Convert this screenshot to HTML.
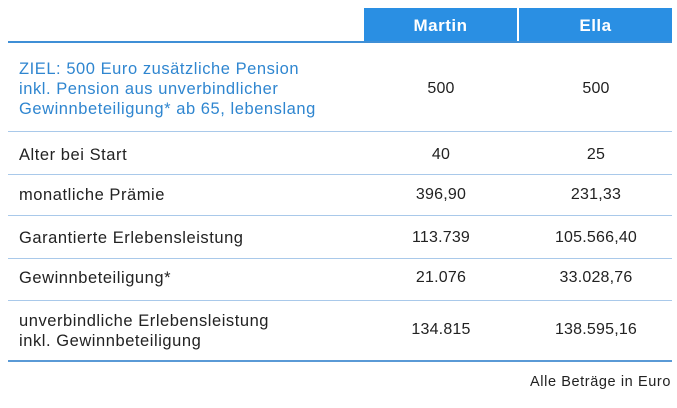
<!DOCTYPE html><html><head><style>
body{margin:0;width:677px;height:408px;background:#fff;font-family:"Liberation Sans",sans-serif;color:#222;position:relative;overflow:hidden}
.a{position:absolute;white-space:nowrap}
.h{background:#2a8fe3;color:#fff;font-weight:bold;font-size:17px;letter-spacing:0.5px;top:8px;height:34px;line-height:36px;text-align:center}
.l{left:8px;width:664px;height:1px;background:#a9c9ea}
.t{left:19px;font-size:16.5px;letter-spacing:0.55px;line-height:20px}
.v{font-size:16px;letter-spacing:0.2px;width:154px;text-align:center;line-height:20px}
</style></head><body>
<div class="a h" style="left:364px;width:153px">Martin</div>
<div class="a h" style="left:519px;width:153px">Ella</div>
<div class="a l" style="top:41px;height:2px;background:#3f8fd6"></div>
<div class="a t" style="top:59px;color:#2f86d0">ZIEL: 500 Euro zusätzliche Pension<br>inkl. Pension aus unverbindlicher<br>Gewinnbeteiligung* ab 65, lebenslang</div>
<div class="a v" style="left:364px;top:79px">500</div><div class="a v" style="left:519px;top:79px">500</div>
<div class="a l" style="top:131px"></div>
<div class="a t" style="top:145px">Alter bei Start</div>
<div class="a v" style="left:364px;top:145px">40</div><div class="a v" style="left:519px;top:145px">25</div>
<div class="a l" style="top:174px"></div>
<div class="a t" style="top:185px">monatliche Prämie</div>
<div class="a v" style="left:364px;top:185px">396,90</div><div class="a v" style="left:519px;top:185px">231,33</div>
<div class="a l" style="top:215px"></div>
<div class="a t" style="top:228px">Garantierte Erlebensleistung</div>
<div class="a v" style="left:364px;top:228px">113.739</div><div class="a v" style="left:519px;top:228px">105.566,40</div>
<div class="a l" style="top:258px"></div>
<div class="a t" style="top:268px">Gewinnbeteiligung*</div>
<div class="a v" style="left:364px;top:268px">21.076</div><div class="a v" style="left:519px;top:268px">33.028,76</div>
<div class="a l" style="top:300px"></div>
<div class="a t" style="top:311px">unverbindliche Erlebensleistung<br>inkl. Gewinnbeteiligung</div>
<div class="a v" style="left:364px;top:320px">134.815</div><div class="a v" style="left:519px;top:320px">138.595,16</div>
<div class="a l" style="top:360px;height:2px;background:#5a9ad6"></div>
<div class="a" style="right:6px;top:374px;font-size:14.5px;letter-spacing:0.6px">Alle Beträge in Euro</div>
</body></html>
